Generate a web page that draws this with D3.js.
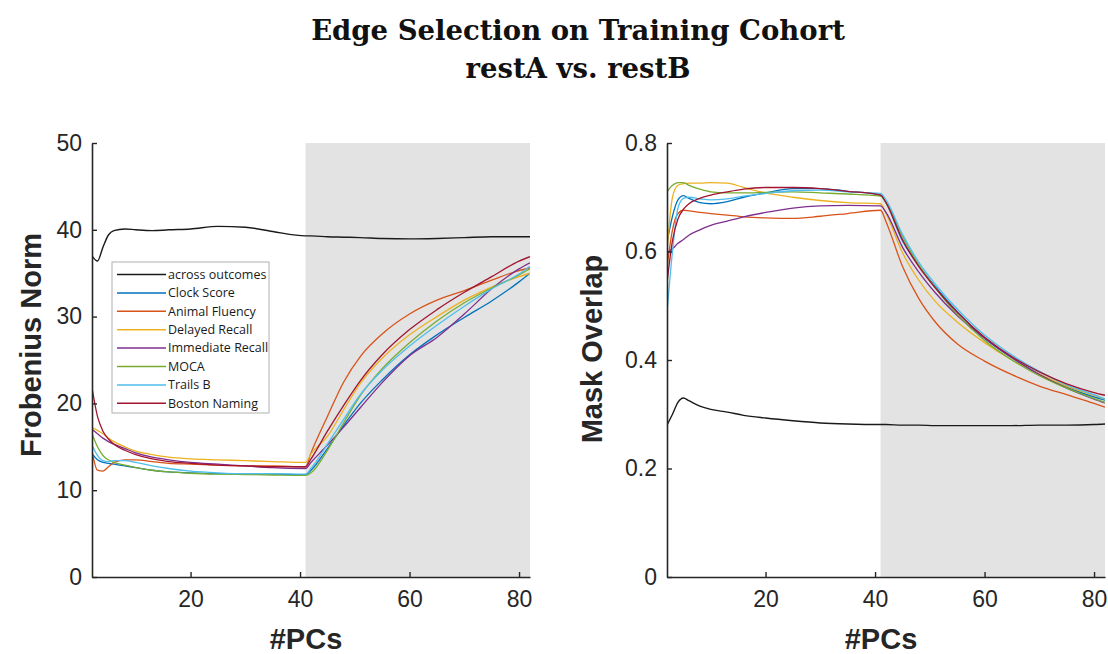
<!DOCTYPE html>
<html>
<head>
<meta charset="utf-8">
<script src="https://cdn.jsdelivr.net/npm/d3@7"></script>
<style>
  html, body { margin: 0; padding: 0; background: #fff; }
  svg { display: block; }
</style>
</head>
<body>
<svg id="chart" width="1108" height="654"></svg>
<script>
// Number of principal components retained
const pcs = [2, 3, 4, 5, 6, 8, 10, 13, 16, 20, 25, 30, 35, 41, 42, 45, 48, 51, 55, 60, 65, 70, 75, 80, 82];

const seriesNames = ["across outcomes", "Clock Score", "Animal Fluency", "Delayed Recall",
  "Immediate Recall", "MOCA", "Trails B", "Boston Naming"];
const seriesColors = ["#1a1a1a", "#0072BD", "#D95319", "#EDB120", "#7E2F8E", "#77AC30", "#4DBEEE", "#A2142F"];

// Shaded range of #PCs
const shadeRange = [41, 82];

// Frobenius norm per outcome
const frobAcross    = [37.0, 36.4, 38.0, 39.4, 39.9, 40.1, 40.0, 39.9, 40.0, 40.1, 40.4, 40.3, 39.8, 39.3, 39.3, 39.2, 39.15, 39.1, 39.0, 38.95, 39.0, 39.1, 39.2, 39.2, 39.2];
const frobClock     = [14.2, 13.5, 13.2, 13.1, 13.0, 12.8, 12.6, 12.3, 12.1, 12.0, 11.9, 11.9, 11.85, 11.8, 12.3, 14.8, 17.5, 20.0, 22.7, 25.6, 27.9, 29.9, 31.8, 34.0, 35.0];
const frobAnimal    = [14.5, 12.3, 12.2, 12.7, 13.2, 13.5, 13.5, 13.3, 13.1, 13.0, 12.9, 12.8, 12.8, 12.7, 14.3, 18.5, 22.5, 25.4, 28.0, 30.3, 31.9, 33.0, 34.2, 35.3, 35.6];
const frobDelayed   = [17.2, 16.9, 16.5, 16.0, 15.6, 15.0, 14.5, 14.1, 13.8, 13.6, 13.5, 13.4, 13.3, 13.2, 14.2, 16.2, 19.3, 22.3, 25.2, 27.9, 30.0, 31.9, 33.4, 34.6, 35.0];
const frobImmediate = [17.0, 16.5, 16.0, 15.6, 15.3, 14.8, 14.3, 13.8, 13.5, 13.2, 13.0, 12.8, 12.6, 12.5, 13.2, 15.2, 17.3, 19.5, 22.4, 25.5, 27.6, 30.3, 33.2, 35.5, 36.2];
const frobMoca      = [16.5, 15.0, 14.0, 13.5, 13.2, 12.9, 12.6, 12.3, 12.1, 11.95, 11.85, 11.8, 11.75, 11.7, 12.0, 14.6, 17.8, 20.9, 24.0, 27.0, 29.5, 31.6, 33.3, 34.8, 35.5];
const frobTrails    = [15.2, 14.0, 13.4, 13.3, 13.4, 13.4, 13.2, 12.8, 12.5, 12.2, 12.0, 11.9, 11.9, 11.85, 12.5, 15.3, 18.2, 21.0, 23.8, 26.6, 29.0, 31.2, 33.2, 34.9, 35.8];
const frobBoston    = [21.8, 18.5, 16.8, 15.9, 15.3, 14.6, 14.1, 13.6, 13.3, 13.1, 12.9, 12.8, 12.7, 12.7, 13.6, 16.8, 19.8, 22.6, 25.6, 28.5, 30.8, 32.8, 34.6, 36.4, 36.9];

// Mask overlap per outcome
const maskAcross    = [0.280, 0.300, 0.322, 0.330, 0.325, 0.315, 0.309, 0.304, 0.298, 0.293, 0.288, 0.284, 0.282, 0.281, 0.281, 0.280, 0.280, 0.279, 0.279, 0.279, 0.279, 0.280, 0.280, 0.281, 0.282];
const maskClock     = [0.616, 0.665, 0.695, 0.703, 0.698, 0.690, 0.688, 0.692, 0.700, 0.708, 0.716, 0.716, 0.711, 0.704, 0.690, 0.620, 0.574, 0.535, 0.489, 0.440, 0.404, 0.374, 0.350, 0.332, 0.326];
const maskAnimal    = [0.571, 0.640, 0.670, 0.676, 0.675, 0.672, 0.670, 0.667, 0.664, 0.662, 0.661, 0.665, 0.670, 0.676, 0.655, 0.573, 0.513, 0.470, 0.430, 0.398, 0.373, 0.352, 0.336, 0.320, 0.313];
const maskDelayed   = [0.600, 0.700, 0.722, 0.725, 0.726, 0.726, 0.727, 0.726, 0.718, 0.708, 0.700, 0.694, 0.690, 0.688, 0.670, 0.598, 0.547, 0.508, 0.470, 0.432, 0.400, 0.374, 0.352, 0.335, 0.328];
const maskImmediate = [0.597, 0.605, 0.615, 0.622, 0.630, 0.640, 0.648, 0.656, 0.664, 0.672, 0.680, 0.684, 0.685, 0.684, 0.672, 0.608, 0.562, 0.524, 0.482, 0.440, 0.404, 0.373, 0.348, 0.328, 0.321];
const maskMoca      = [0.710, 0.722, 0.727, 0.727, 0.722, 0.715, 0.710, 0.708, 0.708, 0.709, 0.710, 0.708, 0.706, 0.702, 0.690, 0.628, 0.575, 0.533, 0.484, 0.436, 0.400, 0.371, 0.348, 0.329, 0.322];
const maskTrails    = [0.487, 0.600, 0.680, 0.698, 0.700, 0.697, 0.695, 0.697, 0.702, 0.707, 0.712, 0.713, 0.710, 0.707, 0.695, 0.632, 0.580, 0.540, 0.494, 0.446, 0.409, 0.379, 0.354, 0.336, 0.328];
const maskBoston    = [0.542, 0.620, 0.660, 0.678, 0.688, 0.698, 0.704, 0.710, 0.715, 0.718, 0.718, 0.716, 0.711, 0.704, 0.690, 0.622, 0.572, 0.533, 0.488, 0.442, 0.406, 0.378, 0.356, 0.340, 0.335];

const xTicks = [20, 40, 60, 80];
const frobTicks = [0, 10, 20, 30, 40, 50];
const maskTicks = [0, 0.2, 0.4, 0.6, 0.8];

const frobSeries = [frobAcross, frobClock, frobAnimal, frobDelayed, frobImmediate, frobMoca, frobTrails, frobBoston];
const maskSeries = [maskAcross, maskClock, maskAnimal, maskDelayed, maskImmediate, maskMoca, maskTrails, maskBoston];

const svg = d3.select("#chart");
const axisColor = "#262626";

// Title
const title = svg.append("g")
  .attr("font-family", "'DejaVu Serif', serif")
  .attr("font-weight", "bold")
  .attr("font-size", 27.5)
  .attr("fill", "#111")
  .attr("text-anchor", "middle");
title.append("text").attr("x", 578).attr("y", 40).text("Edge Selection on Training Cohort");
title.append("text").attr("x", 578).attr("y", 78).text("restA vs. restB");

function panel(opts) {
  const { left, right, top, bottom, yDomain, yTicks, yFormat, yLabel, series, clipId, legend } = opts;
  const x = d3.scaleLinear().domain([2, 82]).range([left, right]);
  const y = d3.scaleLinear().domain(yDomain).range([bottom, top]);
  const g = svg.append("g");

  g.append("clipPath").attr("id", clipId)
    .append("rect").attr("x", left).attr("y", top).attr("width", right - left).attr("height", bottom - top);

  // shaded PC range
  g.append("rect")
    .attr("x", x(shadeRange[0]))
    .attr("y", top)
    .attr("width", x(shadeRange[1]) - x(shadeRange[0]))
    .attr("height", bottom - top)
    .attr("fill", "#e3e3e3");

  const line = d3.line()
    .x((d, i) => x(pcs[i]))
    .y(d => y(d))
    .curve(d3.curveMonotoneX);

  const lines = g.append("g").attr("clip-path", `url(#${clipId})`);
  series.forEach((vals, k) => {
    lines.append("path")
      .datum(vals)
      .attr("d", line)
      .attr("fill", "none")
      .attr("stroke", seriesColors[k])
      .attr("stroke-width", k === 0 ? 1.4 : 1.3)
      .attr("stroke-linejoin", "round");
  });

  // x axis
  const xAxis = d3.axisBottom(x).tickValues(xTicks).tickSizeInner(-5).tickSizeOuter(0).tickPadding(14);
  const gx = g.append("g").attr("transform", `translate(0,${bottom})`).call(xAxis);
  // y axis
  const yAxis = d3.axisLeft(y).tickValues(yTicks).tickFormat(yFormat).tickSizeInner(-5).tickSizeOuter(0).tickPadding(10);
  const gy = g.append("g").attr("transform", `translate(${left},0)`).call(yAxis);

  [gx, gy].forEach(a => {
    a.select(".domain").attr("stroke", axisColor).attr("stroke-width", 1.6);
    a.selectAll(".tick line").attr("stroke", axisColor).attr("stroke-width", 1.4);
    a.selectAll(".tick text")
      .attr("font-family", "'Liberation Sans', Arial, sans-serif")
      .attr("font-size", 23)
      .attr("fill", axisColor);
  });
  gx.selectAll(".tick text").attr("dy", "0.71em");

  // axis labels
  g.append("text")
    .attr("x", (left + right) / 2 - 5)
    .attr("y", 649)
    .attr("text-anchor", "middle")
    .attr("font-family", "'Liberation Sans', Arial, sans-serif")
    .attr("font-weight", "bold")
    .attr("font-size", 29)
    .attr("fill", axisColor)
    .text("#PCs");

  g.append("text")
    .attr("transform", `translate(${opts.yLabelX},${opts.yLabelY}) rotate(-90)`)
    .attr("text-anchor", "middle")
    .attr("font-family", "'Liberation Sans', Arial, sans-serif")
    .attr("font-weight", "bold")
    .attr("font-size", 29)
    .attr("fill", axisColor)
    .text(yLabel);

  if (legend) {
    const lg = g.append("g");
    const bx = 112, by = 262, bw = 157, bh = 151;
    lg.append("rect").attr("x", bx).attr("y", by).attr("width", bw).attr("height", bh)
      .attr("fill", "#fff").attr("stroke", "#b0b0b0").attr("stroke-width", 1);
    seriesNames.forEach((name, k) => {
      const ry = by + 12.5 + k * 18.4;
      lg.append("line").attr("x1", bx + 5).attr("x2", bx + 54).attr("y1", ry).attr("y2", ry)
        .attr("stroke", seriesColors[k]).attr("stroke-width", 1.5);
      lg.append("text").attr("x", bx + 56).attr("y", ry).attr("dy", "0.35em")
        .attr("font-family", "'Open Sans', 'Noto Sans', sans-serif")
        .attr("font-size", 12.5)
        .attr("fill", "#1a1a1a")
        .text(name);
    });
  }
}

panel({
  left: 92, right: 530, top: 143, bottom: 577,
  yDomain: [0, 50], yTicks: frobTicks, yFormat: d3.format("d"),
  yLabel: "Frobenius Norm", yLabelX: 41, yLabelY: 345,
  series: frobSeries, clipId: "clipFrob", legend: true
});

panel({
  left: 667, right: 1105, top: 143, bottom: 577,
  yDomain: [0, 0.8], yTicks: maskTicks, yFormat: d => d === 0 ? "0" : d3.format(".1f")(d),
  yLabel: "Mask Overlap", yLabelX: 602, yLabelY: 349,
  series: maskSeries, clipId: "clipMask", legend: false
});
</script>
</body>
</html>
